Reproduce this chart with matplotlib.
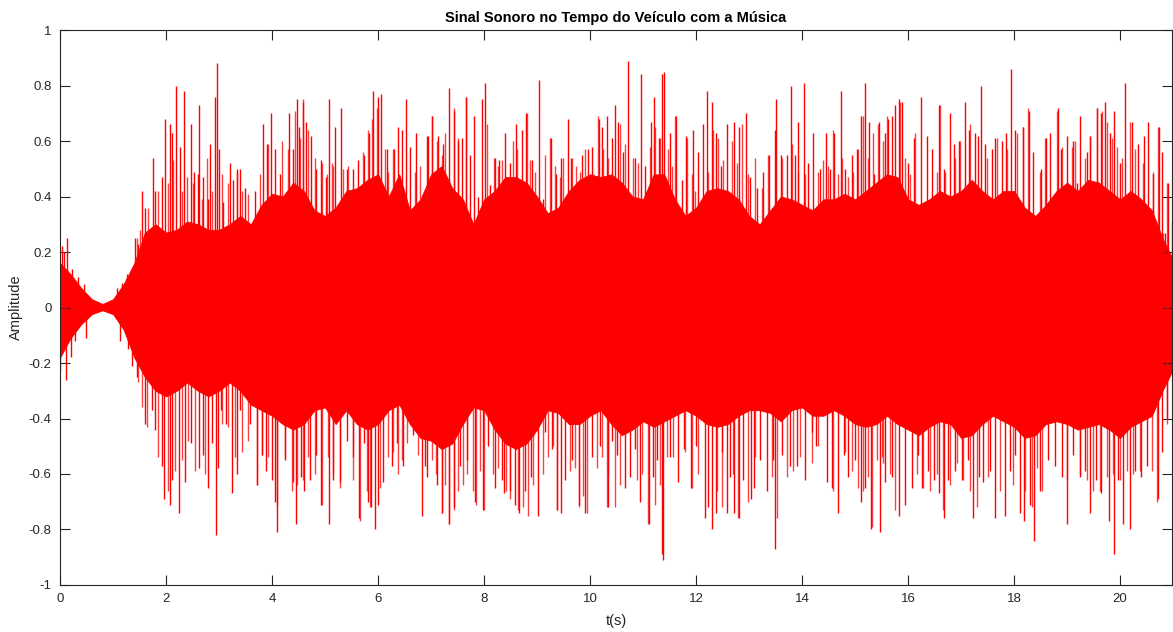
import numpy as np
import matplotlib
matplotlib.use("Agg")
import matplotlib.pyplot as plt

plt.rcParams['font.family'] = ['Liberation Sans', 'DejaVu Sans']
plt.rcParams['axes.unicode_minus'] = False

# edge of the dense body of the waveform, sampled every 0.2 s
core_t = [0.0, 0.2, 0.4, 0.6, 0.8, 1.0, 1.2, 1.4, 1.6, 1.8, 2.0, 2.2, 2.4, 2.6, 2.8, 3.0,
          3.2, 3.4, 3.6, 3.8, 4.0, 4.2, 4.4, 4.6, 4.8, 5.0, 5.2, 5.4, 5.6, 5.8, 6.0,
          6.2, 6.4, 6.6, 6.8, 7.0, 7.2, 7.4, 7.6, 7.8, 8.0, 8.2, 8.4, 8.6, 8.8, 9.0,
          9.2, 9.4, 9.6, 9.8, 10.0, 10.2, 10.4, 10.6, 10.8, 11.0, 11.2, 11.4, 11.6, 11.8, 12.0,
          12.2, 12.4, 12.6, 12.8, 13.0, 13.2, 13.4, 13.6, 13.8, 14.0, 14.2, 14.4, 14.6, 14.8, 15.0,
          15.2, 15.4, 15.6, 15.8, 16.0, 16.2, 16.4, 16.6, 16.8, 17.0, 17.2, 17.4, 17.6, 17.8, 18.0,
          18.2, 18.4, 18.6, 18.8, 19.0, 19.2, 19.4, 19.6, 19.8, 20.0, 20.2, 20.4, 20.6, 20.8, 20.98]
core_hi = [0.16, 0.12, 0.07, 0.03, 0.013, 0.03, 0.085, 0.16, 0.27, 0.30, 0.27, 0.28, 0.31, 0.30, 0.28, 0.28,
           0.30, 0.33, 0.30, 0.37, 0.41, 0.40, 0.45, 0.42, 0.35, 0.33, 0.36, 0.42, 0.43, 0.46, 0.48,
           0.40, 0.48, 0.35, 0.39, 0.48, 0.51, 0.43, 0.39, 0.30, 0.39, 0.42, 0.47, 0.47, 0.45, 0.40,
           0.34, 0.36, 0.42, 0.46, 0.48, 0.47, 0.48, 0.45, 0.40, 0.39, 0.48, 0.48, 0.39, 0.33, 0.36,
           0.42, 0.43, 0.42, 0.39, 0.33, 0.30, 0.35, 0.40, 0.39, 0.37, 0.35, 0.39, 0.39, 0.41, 0.39,
           0.42, 0.45, 0.48, 0.47, 0.39, 0.37, 0.39, 0.42, 0.40, 0.42, 0.46, 0.42, 0.39, 0.42, 0.42,
           0.36, 0.33, 0.37, 0.42, 0.45, 0.42, 0.46, 0.45, 0.42, 0.39, 0.42, 0.39, 0.35, 0.25, 0.18]
core_lo = [-0.18, -0.11, -0.06, -0.024, -0.01, -0.024, -0.08, -0.18, -0.25, -0.30, -0.32, -0.30, -0.27, -0.30, -0.32, -0.30,
           -0.27, -0.30, -0.35, -0.37, -0.39, -0.42, -0.44, -0.42, -0.37, -0.36, -0.42, -0.37, -0.42, -0.44, -0.42,
           -0.37, -0.35, -0.42, -0.47, -0.48, -0.51, -0.49, -0.42, -0.36, -0.37, -0.44, -0.49, -0.51, -0.49, -0.44,
           -0.37, -0.38, -0.42, -0.42, -0.39, -0.37, -0.42, -0.46, -0.44, -0.41, -0.43, -0.41, -0.39, -0.37, -0.39,
           -0.42, -0.43, -0.42, -0.39, -0.37, -0.37, -0.38, -0.41, -0.37, -0.36, -0.39, -0.39, -0.37, -0.39, -0.42,
           -0.43, -0.42, -0.39, -0.42, -0.44, -0.46, -0.43, -0.41, -0.42, -0.47, -0.46, -0.42, -0.39, -0.41, -0.43,
           -0.47, -0.46, -0.42, -0.41, -0.42, -0.44, -0.43, -0.42, -0.44, -0.47, -0.43, -0.41, -0.39, -0.30, -0.23]

# tallest positive peaks (time in s, amplitude)
pos_t = [0.045, 0.082, 0.138, 0.22, 0.346, 0.456, 1.069, 1.164, 1.258, 1.415, 1.465,
         1.553, 1.604, 1.748, 1.792, 1.918, 1.981, 2.075, 2.119, 2.182, 2.264, 2.346, 2.472,
         2.535, 2.597, 2.629, 2.704, 2.799, 2.836, 2.925, 2.956, 3.000, 3.082, 3.208, 3.270,
         3.346, 3.396, 3.491, 3.679, 3.836, 3.899, 3.981, 4.057, 4.151, 4.327, 4.403, 4.465,
         4.503, 4.579, 4.635, 4.730, 4.830, 4.918, 5.019, 5.069, 5.189, 5.296, 5.421, 5.535,
         5.629, 5.736, 5.824, 5.899, 5.994, 6.063, 6.164, 6.302, 6.384, 6.453, 6.528, 6.604,
         6.717, 6.843, 6.918, 6.950, 7.025, 7.138, 7.233, 7.340, 7.440, 7.503, 7.579, 7.654,
         7.736, 7.811, 7.893, 7.969, 8.013, 8.113, 8.208, 8.283, 8.396, 8.497, 8.597, 8.711,
         8.799, 8.912, 9.044, 9.119, 9.258, 9.352, 9.453, 9.579, 9.642, 9.767, 9.855, 9.969,
         10.031, 10.170, 10.220, 10.321, 10.409, 10.472, 10.535, 10.629, 10.723, 10.849,
         10.956, 11.038, 11.145, 11.208, 11.296, 11.365, 11.396, 11.509, 11.623, 11.730,
         11.811, 11.950, 12.031, 12.138, 12.208, 12.302, 12.377, 12.465, 12.579, 12.717,
         12.818, 12.937, 13.019, 13.145, 13.258, 13.384, 13.484, 13.509, 13.598, 13.711,
         13.786, 13.874, 13.918, 14.038, 14.119, 14.214, 14.340, 14.453, 14.528, 14.604,
         14.730, 14.811, 14.937, 15.044, 15.113, 15.189, 15.264, 15.352, 15.459, 15.566,
         15.616, 15.692, 15.755, 15.836, 15.893, 16.006, 16.119, 16.245, 16.352, 16.447,
         16.591, 16.685, 16.792, 16.874, 16.969, 17.075, 17.151, 17.264, 17.327, 17.377,
         17.453, 17.579, 17.642, 17.767, 17.849, 17.937, 18.019, 18.164, 18.277, 18.365,
         18.503, 18.604, 18.679, 18.824, 18.881, 18.994, 19.107, 19.182, 19.245, 19.371,
         19.434, 19.572, 19.635, 19.717, 19.811, 19.887, 20.000, 20.101, 20.220, 20.346,
         20.453, 20.535, 20.629, 20.736, 20.786, 20.849, 20.912, 20.975]
pos_v = [0.22, 0.20, 0.25, 0.14, 0.11, 0.085, 0.07, 0.09, 0.12, 0.25, 0.23,
         0.42, 0.36, 0.54, 0.42, 0.47, 0.68, 0.66, 0.63, 0.80, 0.58, 0.78, 0.66,
         0.49, 0.48, 0.73, 0.47, 0.39, 0.59, 0.76, 0.88, 0.57, 0.38, 0.52, 0.46,
         0.50, 0.50, 0.43, 0.42, 0.66, 0.59, 0.70, 0.57, 0.48, 0.70, 0.57, 0.75,
         0.65, 0.74, 0.67, 0.62, 0.50, 0.53, 0.47, 0.75, 0.65, 0.72, 0.50, 0.50,
         0.53, 0.55, 0.63, 0.78, 0.76, 0.77, 0.57, 0.57, 0.65, 0.64, 0.75, 0.58,
         0.63, 0.41, 0.62, 0.62, 0.69, 0.62, 0.59, 0.79, 0.71, 0.60, 0.61, 0.76,
         0.55, 0.69, 0.40, 0.75, 0.81, 0.44, 0.54, 0.53, 0.63, 0.52, 0.66, 0.64,
         0.70, 0.53, 0.82, 0.39, 0.61, 0.48, 0.54, 0.68, 0.54, 0.44, 0.55, 0.57,
         0.58, 0.68, 0.65, 0.69, 0.61, 0.73, 0.67, 0.56, 0.89, 0.54,
         0.84, 0.51, 0.67, 0.76, 0.61, 0.84, 0.85, 0.63, 0.69, 0.46,
         0.62, 0.64, 0.56, 0.66, 0.78, 0.74, 0.63, 0.51, 0.66, 0.67,
         0.65, 0.70, 0.47, 0.43, 0.49, 0.55, 0.64, 0.75, 0.55, 0.55,
         0.80, 0.55, 0.67, 0.81, 0.52, 0.63, 0.50, 0.63, 0.50, 0.63,
         0.78, 0.50, 0.55, 0.57, 0.69, 0.81, 0.67, 0.48, 0.67, 0.63,
         0.68, 0.69, 0.73, 0.75, 0.74, 0.52, 0.61, 0.76, 0.62, 0.57,
         0.73, 0.50, 0.70, 0.59, 0.60, 0.74, 0.64, 0.63, 0.62, 0.80,
         0.59, 0.57, 0.61, 0.60, 0.63, 0.86, 0.64, 0.65, 0.71, 0.56,
         0.50, 0.61, 0.63, 0.72, 0.57, 0.62, 0.60, 0.45, 0.69, 0.56,
         0.62, 0.72, 0.70, 0.74, 0.63, 0.71, 0.52, 0.81, 0.67, 0.59,
         0.62, 0.67, 0.48, 0.65, 0.56, 0.27, 0.45, 0.31]

# further positive peaks inside the fringe
pos2_t = [1.447, 1.509, 1.667, 1.855, 2.044, 2.138, 2.296, 2.390, 2.516, 2.673, 2.767, 2.862,
          3.050, 3.176, 3.333, 3.428, 3.553, 3.774, 3.931, 4.182, 4.308, 4.434, 4.528, 4.591,
          4.686, 4.811, 4.937, 5.031, 5.126, 5.157, 5.346, 5.440, 5.723, 5.818, 5.881, 5.975,
          6.132, 6.195, 6.289, 6.698, 6.792, 7.013, 7.107, 7.201, 7.264, 7.434, 7.516, 7.660,
          8.050, 8.189, 8.270, 8.333, 8.553, 8.616, 8.805, 8.868, 8.962, 9.151, 9.245, 9.340,
          9.434, 9.497, 9.654, 9.736, 9.811, 9.906, 10.063, 10.157, 10.239, 10.346, 10.566,
          10.660, 10.818, 10.912, 11.132, 11.226, 11.321, 11.478, 11.541, 11.604, 11.824, 11.918,
          11.981, 12.233, 12.327, 12.421, 12.516, 12.673, 12.767, 12.862, 12.987, 13.113, 13.239,
          13.365, 13.616, 13.805, 13.931, 14.057, 14.308, 14.403, 14.497, 14.591, 14.686, 14.748,
          14.874, 14.969, 15.063, 15.157, 15.252, 15.346, 15.440, 15.535, 15.597, 15.849, 15.943,
          16.038, 16.132, 16.541, 16.604, 16.698, 16.887, 16.981, 17.170, 17.484, 17.673, 17.862,
          18.050, 18.176, 18.270, 18.491, 18.585, 18.805, 18.899, 19.088, 19.151, 19.340, 19.434,
          19.560, 19.654, 19.748, 19.843, 19.937, 20.031, 20.189, 20.283, 20.440, 20.629, 20.723,
          20.818, 20.893]
pos2_v = [0.25, 0.28, 0.36, 0.42, 0.45, 0.53, 0.42, 0.47, 0.45, 0.39, 0.54, 0.42,
          0.48, 0.45, 0.49, 0.42, 0.41, 0.48, 0.59, 0.60, 0.57, 0.71, 0.61, 0.75,
          0.64, 0.54, 0.52, 0.48, 0.52, 0.51, 0.50, 0.51, 0.56, 0.64, 0.68, 0.72,
          0.57, 0.49, 0.57, 0.49, 0.51, 0.69, 0.60, 0.55, 0.63, 0.72, 0.61, 0.76,
          0.66, 0.54, 0.51, 0.53, 0.60, 0.57, 0.70, 0.53, 0.49, 0.55, 0.61, 0.51,
          0.47, 0.54, 0.54, 0.51, 0.49, 0.57, 0.48, 0.69, 0.57, 0.54, 0.66,
          0.59, 0.54, 0.52, 0.58, 0.65, 0.61, 0.57, 0.51, 0.69, 0.61, 0.48,
          0.42, 0.49, 0.64, 0.61, 0.53, 0.60, 0.52, 0.66, 0.48, 0.54, 0.43,
          0.55, 0.54, 0.59, 0.49, 0.48, 0.49, 0.53, 0.51, 0.64, 0.48, 0.54,
          0.47, 0.49, 0.57, 0.69, 0.54, 0.63, 0.66, 0.60, 0.69, 0.74, 0.54,
          0.48, 0.63, 0.49, 0.73, 0.49, 0.54, 0.60, 0.66, 0.54, 0.61, 0.57,
          0.63, 0.65, 0.72, 0.49, 0.61, 0.71, 0.58, 0.58, 0.60, 0.54, 0.62,
          0.72, 0.71, 0.67, 0.61, 0.58, 0.54, 0.67, 0.57, 0.52, 0.49, 0.65,
          0.27, 0.45]

# deepest negative peaks (time in s, amplitude)
neg_t = [0.0, 0.113, 0.208, 0.283, 0.484, 1.132, 1.289, 1.365,
         1.447, 1.604, 1.730, 1.792, 1.931, 1.969, 2.075, 2.119, 2.252, 2.358, 2.472, 2.623,
         2.704, 2.799, 2.862, 2.937, 2.975, 3.031, 3.132, 3.239, 3.333, 3.396, 3.585, 3.723,
         3.818, 3.887, 4.006, 4.057, 4.088, 4.245, 4.403, 4.453, 4.541, 4.604, 4.717, 4.830,
         4.925, 5.082, 5.157, 5.283, 5.421, 5.535, 5.648, 5.742, 5.811, 5.868, 5.943, 6.006,
         6.101, 6.258, 6.352, 6.465, 6.667, 6.824, 6.887, 6.918, 7.107, 7.214, 7.340, 7.440,
         7.547, 7.673, 7.830, 7.987, 8.082, 8.208, 8.346, 8.384, 8.497, 8.585, 8.660, 8.774,
         8.887, 9.025, 9.151, 9.277, 9.377, 9.453, 9.528, 9.654, 9.792, 9.906, 10.031, 10.189,
         10.333, 10.421, 10.503, 10.660, 10.755, 10.849, 10.943, 11.113, 11.182, 11.258,
         11.352, 11.384, 11.509, 11.667, 11.774, 11.906, 12.000, 12.170, 12.233, 12.296,
         12.377, 12.491, 12.579, 12.642, 12.717, 12.818, 12.893, 13.031, 13.094, 13.208,
         13.333, 13.459, 13.491, 13.616, 13.774, 13.912, 14.057, 14.195, 14.258, 14.465,
         14.572, 14.686, 14.792, 14.862, 15.000, 15.113, 15.189, 15.302, 15.472, 15.566,
         15.692, 15.836, 15.943, 16.069, 16.182, 16.258, 16.371, 16.497, 16.585, 16.679,
         16.761, 16.887, 17.013, 17.138, 17.233, 17.340, 17.409, 17.547, 17.642, 17.830,
         17.925, 18.019, 18.113, 18.189, 18.302, 18.384, 18.491, 18.648, 18.774, 18.899,
         19.006, 19.119, 19.245, 19.340, 19.434, 19.547, 19.635, 19.799, 19.893, 19.969,
         20.063, 20.189, 20.283, 20.390, 20.503, 20.717, 20.786, 20.881, 20.975]
neg_v = [-0.23, -0.26, -0.18, -0.12, -0.11, -0.12, -0.15, -0.21,
         -0.25, -0.42, -0.37, -0.44, -0.57, -0.69, -0.71, -0.62, -0.74, -0.63, -0.49, -0.58,
         -0.53, -0.65, -0.49, -0.82, -0.58, -0.37, -0.42, -0.67, -0.60, -0.37, -0.42, -0.64,
         -0.53, -0.59, -0.62, -0.70, -0.81, -0.55, -0.63, -0.78, -0.61, -0.66, -0.62, -0.53,
         -0.71, -0.78, -0.62, -0.63, -0.48, -0.54, -0.76, -0.49, -0.70, -0.72, -0.80, -0.71,
         -0.63, -0.57, -0.49, -0.57, -0.46, -0.75, -0.57, -0.61, -0.64, -0.74, -0.78, -0.72,
         -0.57, -0.55, -0.70, -0.73, -0.50, -0.65, -0.62, -0.67, -0.66, -0.71, -0.74, -0.66,
         -0.61, -0.75, -0.45, -0.51, -0.73, -0.74, -0.62, -0.55, -0.71, -0.74, -0.54, -0.50,
         -0.72, -0.48, -0.53, -0.65, -0.61, -0.51, -0.70, -0.78, -0.61, -0.55,
         -0.89, -0.91, -0.54, -0.63, -0.51, -0.65, -0.50, -0.76, -0.72, -0.80,
         -0.74, -0.52, -0.74, -0.61, -0.74, -0.76, -0.62, -0.69, -0.65, -0.55,
         -0.66, -0.55, -0.87, -0.53, -0.57, -0.57, -0.62, -0.45, -0.50, -0.63,
         -0.65, -0.74, -0.53, -0.61, -0.55, -0.70, -0.65, -0.80, -0.81, -0.63,
         -0.61, -0.75, -0.71, -0.65, -0.53, -0.65, -0.59, -0.62, -0.67, -0.76,
         -0.62, -0.59, -0.62, -0.55, -0.76, -0.61, -0.63, -0.59, -0.76, -0.75,
         -0.59, -0.53, -0.74, -0.77, -0.71, -0.84, -0.66, -0.55, -0.57, -0.61,
         -0.78, -0.53, -0.61, -0.59, -0.74, -0.62, -0.67, -0.77, -0.89, -0.62,
         -0.78, -0.80, -0.59, -0.61, -0.57, -0.69, -0.52, -0.40, -0.24]

# further negative peaks inside the fringe
neg2_t = [1.478, 1.541, 1.635, 1.855, 2.044, 2.170, 2.296, 2.421, 2.547, 2.736, 3.050, 3.176,
          3.302, 3.428, 3.553, 3.711, 3.805, 3.931, 4.088, 4.245, 4.371, 4.465, 4.591, 4.686,
          4.811, 4.937, 5.063, 5.145, 5.283, 5.535, 5.660, 5.786, 5.849, 6.038, 6.195, 6.289,
          6.384, 6.447, 6.541, 6.761, 7.013, 7.094, 7.201, 7.264, 7.346, 7.434, 7.516, 7.610,
          7.686, 7.799, 7.849, 7.925, 8.000, 8.176, 8.270, 8.415, 8.491, 8.648, 8.742, 8.836,
          8.931, 9.119, 9.214, 9.308, 9.371, 9.623, 9.717, 9.799, 9.874, 9.937, 10.126, 10.220,
          10.314, 10.346, 10.472, 10.566, 10.880, 10.975, 11.101, 11.226, 11.321, 11.447, 11.572,
          11.792, 11.931, 12.044, 12.390, 12.484, 12.704, 12.799, 12.987, 13.113, 13.428, 13.522,
          13.711, 13.836, 13.962, 14.182, 14.308, 14.591, 14.811, 14.937, 15.063, 15.157, 15.252,
          15.314, 15.409, 15.503, 15.535, 15.660, 15.755, 16.164, 16.289, 16.415, 16.541, 16.667,
          16.792, 16.918, 17.044, 17.170, 17.296, 17.516, 17.736, 17.987, 18.208, 18.333, 18.428,
          18.522, 18.994, 19.245, 19.371, 19.497, 19.623, 19.748, 19.874, 20.000, 20.126, 20.252,
          20.377, 20.597, 20.692, 20.893]
neg2_v = [-0.27, -0.36, -0.43, -0.54, -0.66, -0.59, -0.55, -0.48, -0.59, -0.60, -0.42, -0.43,
          -0.54, -0.52, -0.48, -0.64, -0.53, -0.54, -0.71, -0.54, -0.66, -0.64, -0.62, -0.54,
          -0.60, -0.71, -0.54, -0.60, -0.65, -0.62, -0.77, -0.66, -0.72, -0.65, -0.54, -0.52,
          -0.60, -0.55, -0.49, -0.53, -0.55, -0.60, -0.74, -0.64, -0.78, -0.73, -0.66, -0.64,
          -0.60, -0.66, -0.71, -0.59, -0.73, -0.60, -0.58, -0.66, -0.69, -0.73, -0.72, -0.75,
          -0.64, -0.60, -0.54, -0.50, -0.73, -0.59, -0.58, -0.72, -0.68, -0.74, -0.58, -0.54,
          -0.72, -0.60, -0.72, -0.64, -0.62, -0.60, -0.78, -0.71, -0.64, -0.54, -0.54,
          -0.52, -0.65, -0.60, -0.66, -0.72, -0.60, -0.76, -0.70, -0.54, -0.61, -0.76,
          -0.61, -0.59, -0.54, -0.56, -0.50, -0.66, -0.52, -0.59, -0.65, -0.66, -0.61,
          -0.79, -0.55, -0.54, -0.56, -0.60, -0.73, -0.60, -0.65, -0.66, -0.60, -0.73,
          -0.64, -0.56, -0.62, -0.66, -0.72, -0.61, -0.66, -0.64, -0.66, -0.72, -0.58,
          -0.66, -0.62, -0.60, -0.62, -0.66, -0.66, -0.61, -0.60, -0.62, -0.59, -0.60,
          -0.59, -0.59, -0.70, -0.42]

x_ticks = list(range(0, 21, 2))
y_ticks = [-1, -0.8, -0.6, -0.4, -0.2, 0, 0.2, 0.4, 0.6, 0.8, 1]
y_labels = ['-1', '-0.8', '-0.6', '-0.4', '-0.2', '0', '0.2', '0.4', '0.6', '0.8', '1']

fig = plt.figure(figsize=(11.73, 6.32), dpi=100)
ax = fig.add_axes([0.0512, 0.0744, 0.948, 0.878])

red = (1.0, 0.0, 0.0)
ax.fill_between(core_t, core_lo, core_hi, color=red, lw=0.6, edgecolor=red)
ax.vlines(pos2_t, 0, pos2_v, color=red, lw=1.0, alpha=0.75)
ax.vlines(neg2_t, 0, neg2_v, color=red, lw=1.0, alpha=0.75)
ax.vlines(pos_t, 0, pos_v, color=red, lw=1.0)
ax.vlines(neg_t, 0, neg_v, color=red, lw=1.0)

ax.set_xlim(0, 20.98)
ax.set_ylim(-1, 1)
ax.set_xticks(x_ticks)
ax.set_yticks(y_ticks)
ax.set_yticklabels(y_labels)

dark = (0.15, 0.15, 0.15)
for s in ax.spines.values():
    s.set_color(dark)
    s.set_linewidth(0.8)
ax.tick_params(direction='in', length=7, width=0.8, color=dark, labelcolor=dark,
               labelsize=9.5, top=True, right=True, pad=6)

ax.set_title('Sinal Sonoro no Tempo do Veículo com a Música', fontsize=10.5,
             fontweight='bold', color='black', pad=6)
ax.set_xlabel('t(s)', fontsize=10.5, color=dark, labelpad=6)
ax.set_ylabel('Amplitude', fontsize=10.5, color=dark, labelpad=4)

fig.savefig('out.png', dpi=100)
